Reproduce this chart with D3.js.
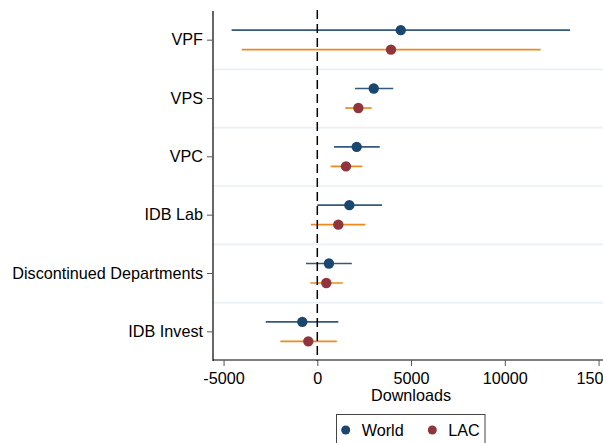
<!DOCTYPE html>
<html><head><meta charset="utf-8">
<script src="https://cdn.jsdelivr.net/npm/d3@7"></script>
<style>body{margin:0;background:#fff}svg{display:block;font-family:"Liberation Sans",Arial,sans-serif}</style>
</head><body><svg id="c" width="603" height="443"></svg>
<script>
const categories = ["VPF","VPS","VPC","IDB Lab","Discontinued Departments","IDB Invest"];
const worldEst = [4450, 3010, 2100, 1710, 620, -800];
const worldLo  = [-4570, 2010, 890, 0, -600, -2750];
const worldHi  = [13480, 4050, 3330, 3450, 1840, 1120];
const lacEst = [3930, 2190, 1530, 1120, 480, -480];
const lacLo  = [-4030, 1490, 715, -340, -370, -1970];
const lacHi  = [11910, 2900, 2400, 2560, 1360, 1040];
const xTicks = [-5000, 0, 5000, 10000, 15000];
const xTickLabels = ["-5000","0","5000","10000","15000"];
const seriesNames = ["World","LAC"];

const FS = 16.2;
const svg = d3.select("#c");
const L = 213, R = 603, T = 11, B = 361;
const x = d3.scaleLinear().domain([0, 5000]).range([317.3, 411.05]);
const y = d3.scaleBand().domain(categories).range([T, B]);

// gridlines between categories
svg.selectAll("line.grid").data(categories.slice(1)).enter().append("line")
  .attr("x1", L).attr("x2", R)
  .attr("y1", d => y(d)).attr("y2", d => y(d))
  .attr("stroke", "#eaf0f3").attr("stroke-width", 1.6);

const series = [
  {name: "World", est: worldEst, lo: worldLo, hi: worldHi, dot: "#1a476f", line: "#35597d", off: -10},
  {name: "LAC", est: lacEst, lo: lacLo, hi: lacHi, dot: "#90353b", line: "#ee8a1c", off: 9.5}
];

series.forEach(s => {
  const g = svg.append("g");
  g.selectAll("line").data(categories).enter().append("line")
    .attr("x1", (d, i) => x(s.lo[i])).attr("x2", (d, i) => x(s.hi[i]))
    .attr("y1", d => y(d) + y.bandwidth()/2 + s.off)
    .attr("y2", d => y(d) + y.bandwidth()/2 + s.off)
    .attr("stroke", s.line).attr("stroke-width", 1.7);
});

// zero reference line
svg.append("line").attr("x1", x(0)).attr("x2", x(0)).attr("y1", T - 1).attr("y2", B)
  .attr("stroke", "#000").attr("stroke-width", 1.5).attr("stroke-dasharray", "9,5");

series.forEach(s => {
  svg.append("g").selectAll("circle").data(categories).enter().append("circle")
    .attr("cx", (d, i) => x(s.est[i]))
    .attr("cy", d => y(d) + y.bandwidth()/2 + s.off)
    .attr("r", 5.2).attr("fill", s.dot);
});

// y axis
const yAxis = d3.axisLeft(y).tickSize(6).tickPadding(4);
const gy = svg.append("g").attr("transform", `translate(${L},0)`).call(yAxis);
gy.select(".domain").attr("stroke", "#000").attr("stroke-width", 1.2).attr("d", `M0,${T}V${B}`);
gy.selectAll(".tick line").attr("stroke", "#555");
gy.selectAll(".tick text").attr("font-size", FS).attr("fill", "#000")
  .attr("font-family", '"Liberation Sans",Arial,sans-serif');

// x axis
const xAxis = d3.axisBottom(x).tickValues(xTicks).tickFormat((d, i) => xTickLabels[i]).tickSize(6).tickPadding(6);
const gx = svg.append("g").attr("transform", `translate(0,${B - 1})`).call(xAxis);
gx.select(".domain").attr("stroke", "#000").attr("stroke-width", 1.2).attr("d", `M${L},0H${R}`);
gx.selectAll(".tick line").attr("stroke", "#555");
gx.selectAll(".tick text").attr("font-size", FS).attr("fill", "#000")
  .attr("font-family", '"Liberation Sans",Arial,sans-serif');

svg.append("text").attr("x", 411).attr("y", 400.5).attr("text-anchor", "middle")
  .attr("font-size", FS).text("Downloads");

// legend
svg.append("rect").attr("x", 336.5).attr("y", 414.5).attr("width", 148.5).attr("height", 40)
  .attr("fill", "#fff").attr("stroke", "#444").attr("stroke-width", 1);
const legX = [345.7, 432.3];
seriesNames.forEach((n, i) => {
  svg.append("circle").attr("cx", legX[i]).attr("cy", 430).attr("r", 4.5).attr("fill", series[i].dot);
  svg.append("text").attr("x", legX[i] + 16).attr("y", 436).attr("font-size", FS).text(n);
});
</script></body></html>
